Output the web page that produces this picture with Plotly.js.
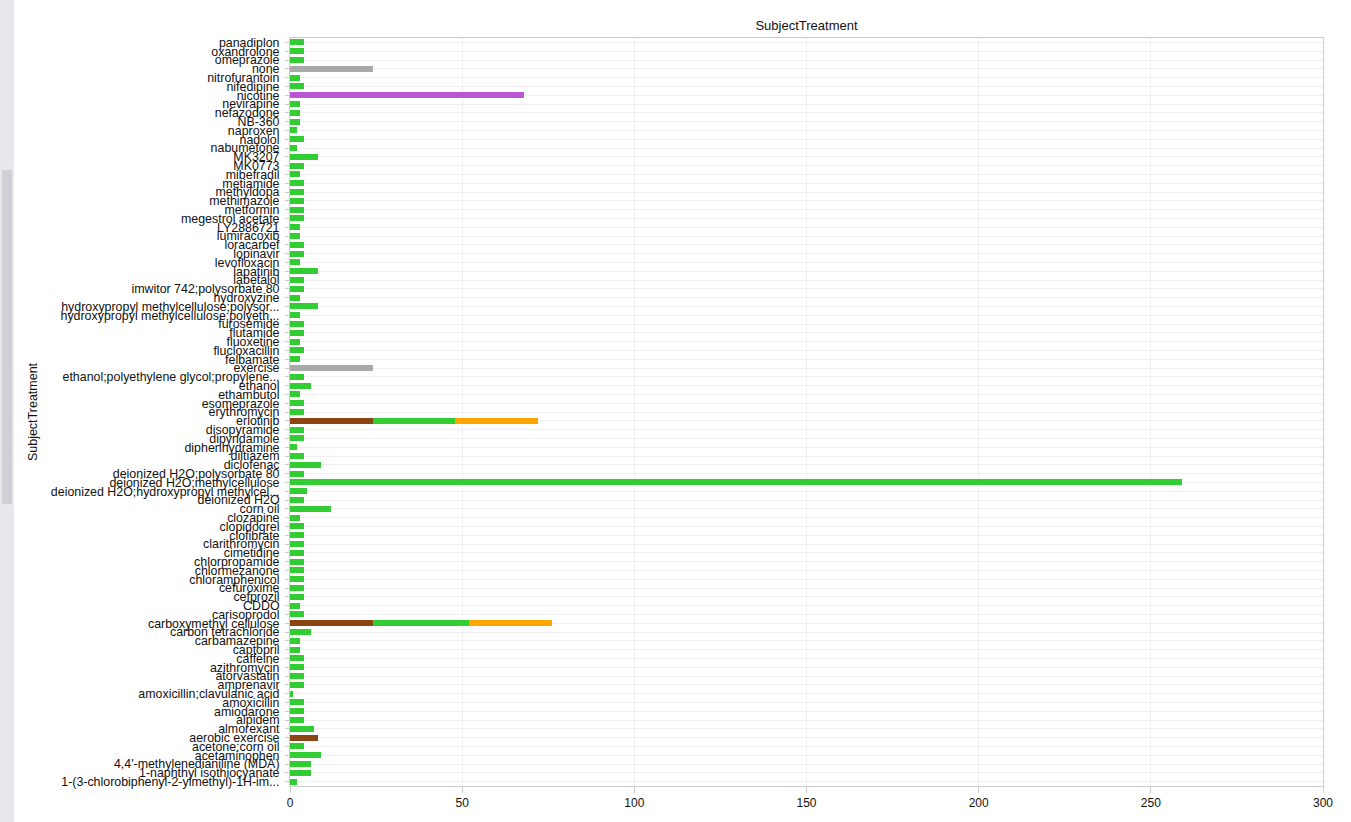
<!DOCTYPE html>
<html>
<head>
<meta charset="utf-8">
<script src="https://cdn.plot.ly/plotly-3.0.1.min.js"></script>
<style>
html,body{margin:0;padding:0;background:#fff;overflow:hidden;}
#chart{position:absolute;left:0;top:0;width:1351px;height:822px;}
#sb{position:absolute;left:0;top:0;width:14px;height:822px;background:#e8e8ec;}
#thumb{position:absolute;left:2px;top:170px;width:10px;height:334px;background:#cfd0d6;}
</style>
</head>
<body>
<div id="chart"></div>
<div id="sb"><div id="thumb"></div></div>
<script>
const categories = [
"1-(3-chlorobiphenyl-2-ylmethyl)-1H-im...","1-naphthyl isothiocyanate","4,4'-methylenedianiline (MDA)","acetaminophen","acetone;corn oil","aerobic exercise","almorexant","alpidem","amiodarone","amoxicillin",
"amoxicillin;clavulanic acid","amprenavir","atorvastatin","azithromycin","caffeine","captopril","carbamazepine","carbon tetrachloride","carboxymethyl cellulose","carisoprodol",
"CDDO","cefprozil","cefuroxime","chloramphenicol","chlormezanone","chlorpropamide","cimetidine","clarithromycin","clofibrate","clopidogrel",
"clozapine","corn oil","deionized H2O","deionized H2O;hydroxypropyl methylcel...","deionized H2O;methylcellulose","deionized H2O;polysorbate 80","diclofenac","diltiazem","diphenhydramine","dipyridamole",
"disopyramide","erlotinib","erythromycin","esomeprazole","ethambutol","ethanol","ethanol;polyethylene glycol;propylene...","exercise","felbamate","flucloxacillin",
"fluoxetine","flutamide","furosemide","hydroxypropyl methylcellulose;polyeth...","hydroxypropyl methylcellulose;polysor...","hydroxyzine","imwitor 742;polysorbate 80","labetalol","lapatinib","levofloxacin",
"lopinavir","loracarbef","lumiracoxib","LY2886721","megestrol acetate","metformin","methimazole","methyldopa","metiamide","mibefradil",
"MK0773","MK3207","nabumetone","nadolol","naproxen","NB-360","nefazodone","nevirapine","nicotine","nifedipine",
"nitrofurantoin","none","omeprazole","oxandrolone","panadiplon"
];
const greenVals = [
2,6,6,9,4,null,7,4,4,4,
1,4,4,4,4,3,3,6,28,4,
3,4,4,4,4,4,4,4,4,4,
3,12,4,5,259,4,9,4,2,4,
4,24,4,4,3,6,4,null,3,4,
3,4,4,3,8,3,4,4,8,3,
4,4,3,3,4,4,4,4,4,3,
4,8,2,4,2,3,3,3,null,4,
3,null,4,4,4
];
const brownCats = ["aerobic exercise","carboxymethyl cellulose","erlotinib"];
const brownVals = [8,24,24];
const orangeCats = ["carboxymethyl cellulose","erlotinib"];
const orangeVals = [24,24];
const greyCats = ["exercise","none"];
const greyVals = [24,24];
const purpleCats = ["nicotine"];
const purpleVals = [68];

const traces = [
 {type:'bar',orientation:'h',y:brownCats,x:brownVals,marker:{color:'#8B4513'},name:'brown'},
 {type:'bar',orientation:'h',y:categories,x:greenVals,marker:{color:'#32CD32'},name:'green'},
 {type:'bar',orientation:'h',y:orangeCats,x:orangeVals,marker:{color:'#FFA500'},name:'orange'},
 {type:'bar',orientation:'h',y:greyCats,x:greyVals,marker:{color:'#A9A9A9'},name:'grey'},
 {type:'bar',orientation:'h',y:purpleCats,x:purpleVals,marker:{color:'#BA55D3'},name:'purple'}
];
const layout = {
 width:1351,height:822,
 margin:{l:290,r:28,t:38,b:36,pad:0},
 paper_bgcolor:'#fff',plot_bgcolor:'#fff',
 barmode:'stack',bargap:0.3,showlegend:false,
 font:{family:'"Liberation Sans", Arial, sans-serif',size:12,color:'#111'},
 title:{text:'SubjectTreatment',x:0.5,xref:'paper',y:0.9696,yanchor:'middle',yref:'container',font:{size:13,color:'#111'}},
 xaxis:{range:[0,300],dtick:50,showgrid:true,gridcolor:'#efefef',zeroline:false,
   showline:true,linecolor:'#cccccc',mirror:true,ticks:'outside',ticklen:6,tickcolor:'#cccccc',
   tickfont:{size:12,color:'#111'},fixedrange:true},
 yaxis:{type:'category',categoryorder:'array',categoryarray:categories,automargin:false,
   tickmode:'array',tickvals:categories,ticktext:categories,ticklabelstandoff:3,
   showgrid:true,gridcolor:'#efefef',showline:true,linecolor:'#cccccc',mirror:true,
   ticks:'outside',ticklen:4,tickcolor:'#cccccc',tickfont:{size:12.4,color:'#111'},
   title:{text:'SubjectTreatment',standoff:10,font:{size:12.5,color:'#111'}},fixedrange:true}
};
Plotly.newPlot('chart',traces,layout,{displayModeBar:false,staticPlot:true});
</script>
</body>
</html>
